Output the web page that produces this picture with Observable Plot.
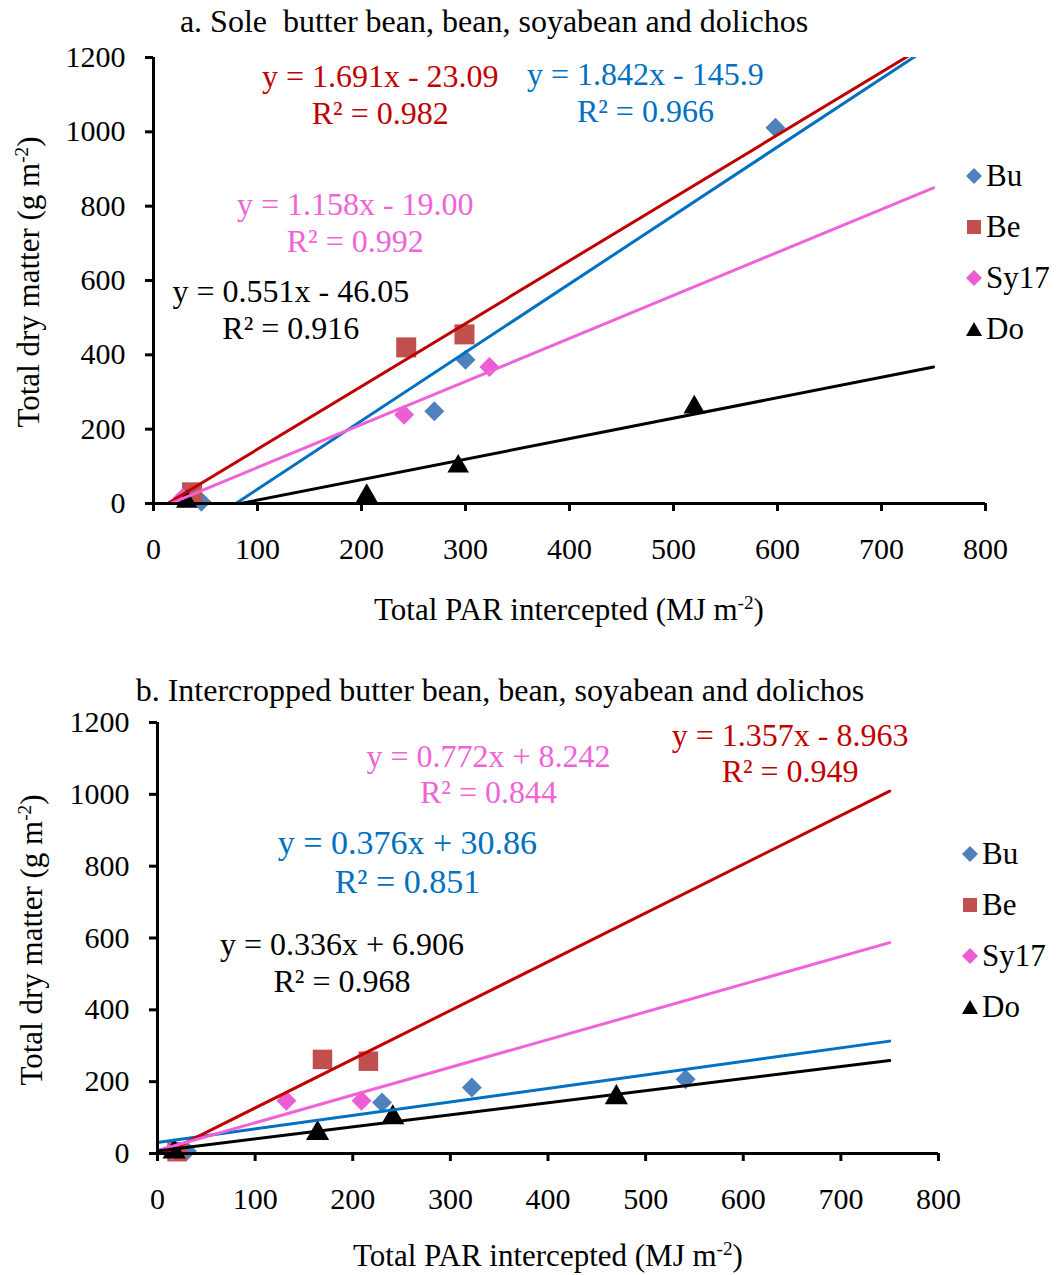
<!DOCTYPE html>
<html><head><meta charset="utf-8">
<script src="https://cdn.jsdelivr.net/npm/d3@7"></script>
<script src="https://cdn.jsdelivr.net/npm/@observablehq/plot@0.6"></script>
<style>
body{margin:0;background:#fff;}
#fig{position:relative;width:1060px;height:1275px;overflow:hidden;font-family:"Liberation Serif","Times New Roman",serif;color:#000;background:#fff;}
.abs{position:absolute;white-space:nowrap;line-height:1;}
.ctr{transform:translate(-50%,-50%);}
.ylab{transform:translate(-50%,-50%) rotate(-90deg);}
sup{font-size:0.62em;vertical-align:0.55em;line-height:0;}
.leg{position:absolute;display:flex;flex-direction:column;gap:0;}
.leg div{display:flex;align-items:center;height:51px;font-size:31px;}
.leg svg{margin-right:4px;}
</style></head><body><div id="fig"></div>
<script>
// ---------- shared ----------
const seriesNames = ["Bu", "Be", "Sy17", "Do"];
const markerColors = ["#4F81BD", "#C0504D", "#EC5CD2", "#000000"];
const lineColors = ["#0070C0", "#C00000", "#F063D8", "#000000"];
const markerSymbols = ["diamond2", "square", "diamond2", "triangle"];
const xTicks = [0, 100, 200, 300, 400, 500, 600, 700, 800];
const yTicks = [0, 200, 400, 600, 800, 1000, 1200];
const trendStartX = 0;
const trendEndX = 750;

// ---------- panel a: sole crops ----------
const aTitle = "a. Sole  butter bean, bean, soyabean and dolichos";
const aBuX = [46, 270, 300, 598];
const aBuY = [5, 248, 387, 1011];
const aBeX = [37, 243, 299];
const aBeY = [30, 420, 455];
const aSyX = [28, 241, 323];
const aSyY = [15, 239, 367];
const aDoX = [32, 205, 293, 520];
const aDoY = [5, 21, 100, 259];
const aSlope = [1.842, 1.691, 1.158, 0.551];
const aIntercept = [-145.9, -23.09, -19.00, -46.05];
const aEquation = ["y = 1.842x - 145.9", "y = 1.691x - 23.09", "y = 1.158x - 19.00", "y = 0.551x - 46.05"];
const aR2 = ["R² = 0.966", "R² = 0.982", "R² = 0.992", "R² = 0.916"];
const aLabelX = [473, 218, 194, 132];
const aLabelY = [1108, 1103, 759, 525];

// ---------- panel b: intercropped ----------
const bTitle = "b. Intercropped butter bean, bean, soyabean and dolichos";
const bBuX = [30, 230, 322, 541];
const bBuY = [7, 142, 184, 207];
const bBeX = [20, 169, 216];
const bBeY = [5, 262, 257];
const bSyX = [15, 132, 209];
const bSyY = [8, 147, 147];
const bDoX = [17, 164, 241, 470];
const bDoY = [5, 56, 100, 156];
const bSlope = [0.376, 1.357, 0.772, 0.336];
const bIntercept = [30.86, -8.963, 8.242, 6.906];
const bEquation = ["y = 0.376x + 30.86", "y = 1.357x - 8.963", "y = 0.772x + 8.242", "y = 0.336x + 6.906"];
const bR2 = ["R² = 0.851", "R² = 0.949", "R² = 0.844", "R² = 0.968"];
const bLabelX = [256, 648, 339, 189];
const bLabelY = [814, 1117, 1059, 533];
const bLabelSize = [34, 32, 32, 32];

function buildPoints(xs, ys) {
  const out = [];
  xs.forEach((arr, i) => arr.forEach((x, j) => out.push({s: i, x, y: ys[i][j]})));
  return out;
}
function buildTrends(slopes, intercepts) {
  const out = [];
  slopes.forEach((m, i) => {
    [trendStartX, trendEndX].forEach(x => out.push({s: i, x, y: m * x + intercepts[i]}));
  });
  return out;
}

function panel({points, trends, labels, width, height, mt, mb, ml, mr, ptSizes}) {
  const marks = [];
  for (let i = 0; i < 4; i++) {
    marks.push(Plot.dot(points.filter(d => d.s === i), {
      x: "x", y: "y", symbol: markerSymbols[i], r: ptSizes[i],
      fill: markerColors[i], stroke: "none"
    }));
  }
  marks.push(Plot.line(trends, {
    x: "x", y: "y", z: "s", stroke: d => lineColors[d.s], strokeWidth: 3, clip: true
  }));
  marks.push(Plot.ruleX([0], {stroke: "black", strokeWidth: 3}));
  marks.push(Plot.ruleY([0], {stroke: "black", strokeWidth: 3}));
  marks.push(Plot.axisX({ticks: xTicks, tickSize: 8, tickPadding: 26, strokeWidth: 3, label: null, tickFormat: d => String(d)}));
  marks.push(Plot.axisY({ticks: yTicks, tickSize: 8, tickPadding: 20, strokeWidth: 3, label: null, tickFormat: d => String(d)}));
  marks.push(Plot.text(labels, {
    x: "x", y: "y", text: "t", fill: d => lineColors[d.s], fontSize: d => d.fs,
    lineHeight: 1.15, textAnchor: "middle", lineAnchor: "middle"
  }));
  return Plot.plot({
    width, height, marginTop: mt, marginBottom: mb, marginLeft: ml, marginRight: mr,
    x: {domain: [0, 800]},
    y: {domain: [0, 1200]},
    style: {fontFamily: "'Liberation Serif','Times New Roman',serif", fontSize: "30px", color: "black", background: "white", overflow: "visible"},
    marks
  });
}

const fig = document.getElementById("fig");

const aPoints = buildPoints([aBuX, aBeX, aSyX, aDoX], [aBuY, aBeY, aSyY, aDoY]);
const aTrends = buildTrends(aSlope, aIntercept);
const aLabels = aEquation.map((e, i) => ({s: i, x: aLabelX[i], y: aLabelY[i], t: e + "\n" + aR2[i], fs: 32}));
const svgA = panel({points: aPoints, trends: aTrends, labels: aLabels, width: 1060, height: 640,
  mt: 57, mb: 137, ml: 153, mr: 75, ptSizes: [9, 11.3, 9, 8]});
svgA.style.position = "absolute"; svgA.style.left = "0px"; svgA.style.top = "0px";
fig.appendChild(svgA);

const bPoints = buildPoints([bBuX, bBeX, bSyX, bDoX], [bBuY, bBeY, bSyY, bDoY]);
const bTrends = buildTrends(bSlope, bIntercept);
const bLabels = bEquation.map((e, i) => ({s: i, x: bLabelX[i], y: bLabelY[i], t: e + "\n" + bR2[i], fs: bLabelSize[i]}));
const svgB = panel({points: bPoints, trends: bTrends, labels: bLabels, width: 1060, height: 635,
  mt: 82, mb: 122, ml: 157, mr: 122, ptSizes: [9, 11, 9, 8.6]});
svgB.style.position = "absolute"; svgB.style.left = "0px"; svgB.style.top = "640px";
fig.appendChild(svgB);

function addText(html, x, y, cls, size) {
  const d = document.createElement("div");
  d.className = "abs " + cls;
  d.style.left = x + "px"; d.style.top = y + "px"; d.style.fontSize = size + "px";
  d.innerHTML = html;
  fig.appendChild(d);
}
const xTitle = "Total PAR intercepted (MJ m<sup>-2</sup>)";
const yTitle = "Total dry matter (g m<sup>-2</sup>)";
addText(aTitle.replace("  ", "&nbsp; "), 494, 21, "ctr", 32);
addText(bTitle, 500, 690, "ctr", 32);
addText(xTitle, 569, 609, "ctr", 31);
addText(xTitle, 548, 1255, "ctr", 31);
addText(yTitle, 28, 282, "ylab", 31);
addText(yTitle, 31, 940, "ylab", 31);

function legendSymbol(i, size) {
  const c = markerColors[i];
  const h = size / 2;
  let shape;
  if (markerSymbols[i] === "diamond2") shape = `<polygon points="${h},0 ${size},${h} ${h},${size} 0,${h}" fill="${c}"/>`;
  else if (markerSymbols[i] === "square") shape = `<rect x="1" y="1" width="${size - 2}" height="${size - 2}" fill="${c}"/>`;
  else shape = `<polygon points="${h},1 ${size},${size - 1} 0,${size - 1}" fill="${c}"/>`;
  return `<svg width="${size}" height="${size}">${shape}</svg>`;
}
function addLegend(left, top) {
  const L = document.createElement("div");
  L.className = "leg";
  L.style.left = left + "px"; L.style.top = top + "px";
  seriesNames.forEach((n, i) => {
    const row = document.createElement("div");
    row.innerHTML = legendSymbol(i, 16) + `<span>${n}</span>`;
    L.appendChild(row);
  });
  fig.appendChild(L);
}
addLegend(966, 150);
addLegend(962, 828);
</script></body></html>
